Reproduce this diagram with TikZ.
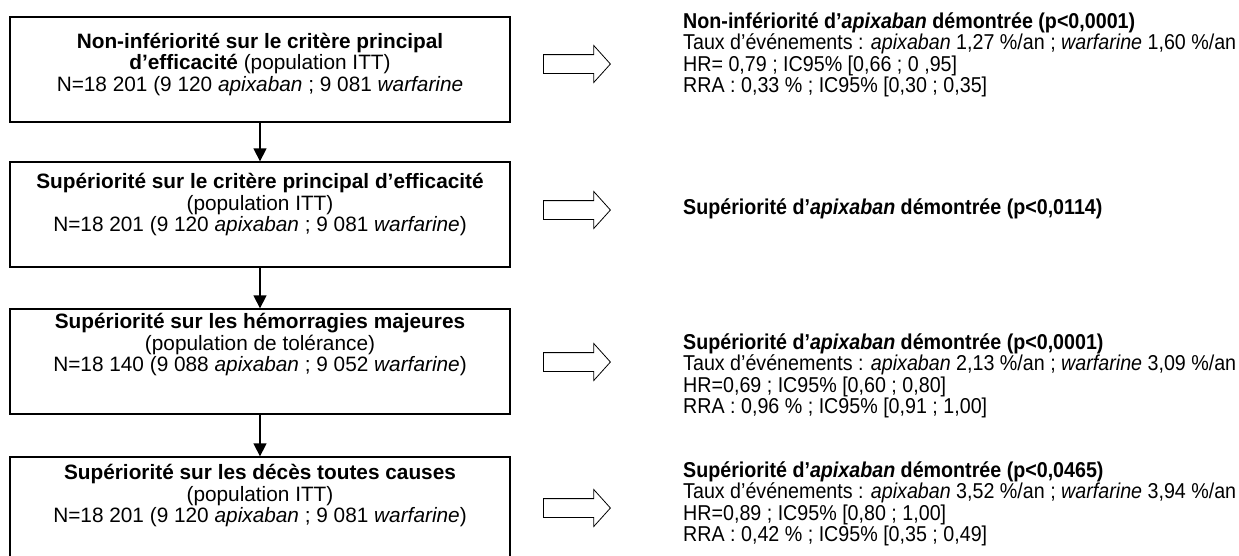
\documentclass[tikz,border=0pt]{standalone}
\usepackage{fontspec}
\setmainfont{Liberation Sans}
\newfontfamily\narrowfont{Liberation Sans}[FakeStretch=0.915]
\usetikzlibrary{arrows.meta,shapes.arrows}
\tikzset{
  x=1pt, y=-1pt,
  stagebox/.style={draw, line width=1.3pt, minimum width=500pt, minimum height=105pt, inner sep=0pt},
  stagetext/.style={align=center, inner sep=0pt, font=\fontsize{20.8}{21.5}\selectfont},
  resulttext/.style={anchor=west, align=left, inner sep=0pt, font=\narrowfont\fontsize{21.5}{21.5}\selectfont},
  hollow/.style={draw, line width=0.8pt, single arrow, single arrow head extend=9pt, single arrow tip angle=96,
    minimum height=67pt, inner xsep=0pt, inner ysep=9pt, anchor=west},
  down/.style={-{Triangle[length=13pt,width=13pt]}, line width=1.3pt}
}
\begin{document}
\begin{tikzpicture}
\useasboundingbox (0,0) rectangle (1239,555);
% boxes
\node[stagebox] (b1) at (260,69.5) {};
\node[stagebox] (b2) at (260,214.5) {};
\node[stagebox] (b3) at (260,361.5) {};
\node[stagebox] (b4) at (260,509.5) {};
% box texts
\node[stagetext] (t1) at (260,64.5) {\textbf{Non-infériorité sur le critère principal}\\\textbf{d’efficacité} (population ITT)\\N=18 201 (9 120 \textit{apixaban} ; 9 081 \textit{warfarine}};
\node[stagetext] (t2) at (260,205) {\textbf{Supériorité sur le critère principal d’efficacité}\\(population ITT)\\N=18 201 (9 120 \textit{apixaban} ; 9 081 \textit{warfarine})};
\node[stagetext] (t3) at (260,345) {\textbf{Supériorité sur les hémorragies majeures}\\(population de tolérance)\\N=18 140 (9 088 \textit{apixaban} ; 9 052 \textit{warfarine})};
\node[stagetext] (t4) at (260,496) {\textbf{Supériorité sur les décès toutes causes}\\(population ITT)\\N=18 201 (9 120 \textit{apixaban} ; 9 081 \textit{warfarine})};
% down arrows
\draw[down] (b1.south) -- (b2.north);
\draw[down] (b2.south) -- (b3.north);
\draw[down] (b3.south) -- (b4.north);
% hollow arrows
\node[hollow] (a1) at (543,64) {};
\node[hollow] (a2) at (543,210) {};
\node[hollow] (a3) at (543,362) {};
\node[hollow] (a4) at (543,508) {};
% results
\node[resulttext] (r1) at (683,55) {\textbf{Non-infériorité d’\textit{apixaban} démontrée (p<0,0001)}\\Taux d’événements : \textit{apixaban} 1,27 \%/an ; \textit{warfarine} 1,60 \%/an\\HR= 0,79 ; IC95\% [0,66 ; 0 ,95]\\RRA : 0,33 \% ; IC95\% [0,30 ; 0,35]};
\node[resulttext] (r2) at (683,209) {\textbf{Supériorité d’\textit{apixaban} démontrée (p<0,0114)}};
\node[resulttext] (r3) at (683,376) {\textbf{Supériorité d’\textit{apixaban} démontrée (p<0,0001)}\\Taux d’événements : \textit{apixaban} 2,13 \%/an ; \textit{warfarine} 3,09 \%/an\\HR=0,69 ; IC95\% [0,60 ; 0,80]\\RRA : 0,96 \% ; IC95\% [0,91 ; 1,00]};
\node[resulttext] (r4) at (683,504) {\textbf{Supériorité d’\textit{apixaban} démontrée (p<0,0465)}\\Taux d’événements : \textit{apixaban} 3,52 \%/an ; \textit{warfarine} 3,94 \%/an\\HR=0,89 ; IC95\% [0,80 ; 1,00]\\RRA : 0,42 \% ; IC95\% [0,35 ; 0,49]};
\end{tikzpicture}
\end{document}
